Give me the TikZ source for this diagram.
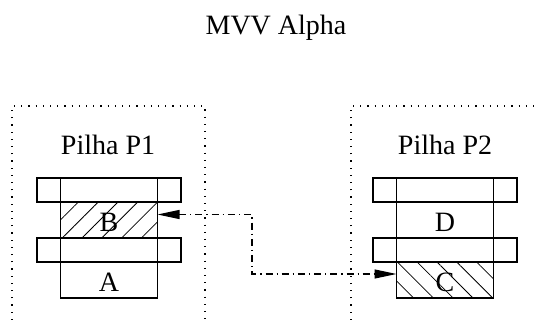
\documentclass[tikz,border=0pt]{standalone}
\usepackage{fontspec}
\setmainfont{Liberation Serif}
\usetikzlibrary{positioning,arrows.meta,patterns.meta}

\tikzset{
  pile/.style={draw, line width=0.6pt, dash pattern=on 0.6pt off 3pt},
  slotbar/.style={draw, line width=0.6pt, outer sep=0pt, inner sep=0pt,
    minimum width=72pt, minimum height=12pt},
  block/.style={draw, line width=0.6pt, outer sep=0pt, inner sep=0pt,
    minimum width=48.5pt, minimum height=18pt, text height=12pt, text depth=0pt},
  hatchne/.style={pattern={Lines[angle=45,distance=7pt,line width=0.4pt]}},
  hatchnw/.style={pattern={Lines[angle=-45,distance=7pt,line width=0.4pt]}},
  link/.style={{Triangle[length=11pt,width=4.5pt]}-{Triangle[length=11pt,width=4.5pt]},
    line width=0.6pt, dash pattern=on 3.5pt off 2pt on 0.6pt off 2pt},
}

\begin{document}
\begin{tikzpicture}[x=0.5pt,y=-0.5pt,font=\fontsize{14}{17}\selectfont]
        \useasboundingbox (0,0) rectangle (535,320);
        \node[anchor=base] (title) at (276,35) {MVV Alpha};
        % pilha P1
        \draw[pile] (12,320) -- (12,106) -- (205,106) -- (205,320);
        \node[anchor=base] (p1) at (108,155) {Pilha P1};
        \node[slotbar] (s11) at (109,190) {};
        \node[block, hatchne, below=0pt of s11] (b) {B};
        \node[slotbar, below=0pt of b] (s12) {};
        \node[block, below=0pt of s12] (a) {A};
        \draw[line width=0.6pt] (s11.north -| b.west) -- (a.south west);
        \draw[line width=0.6pt] (s11.north -| b.east) -- (a.south east);
        % pilha P2
        \draw[pile] (351,320) -- (351,106) -- (535,106);
        \begin{scope}[shift={(336,0)}]
                \node[anchor=base] (p2) at (109,155) {Pilha P2};
                \node[slotbar] (s21) at (109,190) {};
                \node[block, below=0pt of s21] (d) {D};
                \node[slotbar, below=0pt of d] (s22) {};
                \node[block, hatchnw, below=0pt of s22] (c) {C};
                \draw[line width=0.6pt] (s21.north -| d.west) -- (c.south west);
                \draw[line width=0.6pt] (s21.north -| d.east) -- (c.south east);
        \end{scope}
        % movimento
        \coordinate (bend) at (252,0);
        \coordinate (from) at ([yshift=2.75pt]b.east);
        \coordinate (to) at ([yshift=3pt]c.west);
        \draw[link] (from) -- (from -| bend) -- (to -| bend) -- (to);
\end{tikzpicture}
\end{document}
